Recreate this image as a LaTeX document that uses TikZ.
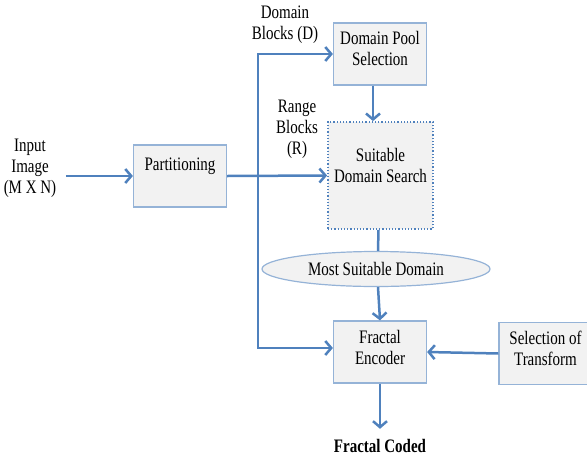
\documentclass[tikz,border=0pt]{standalone}
\usepackage{fontspec}
\setmainfont{Liberation Serif}
\usetikzlibrary{arrows.meta,shapes.geometric}
\definecolor{flowblue}{RGB}{79,129,189}
\definecolor{edgeblue}{RGB}{149,179,215}
\definecolor{boxgray}{RGB}{242,242,242}

\begin{document}
\begin{tikzpicture}[x=1pt,y=-1pt,
  every node/.style={font=\fontsize{15}{16.5}\selectfont,align=center},
  tall/.style={yscale=1.27},
  block/.style={draw=edgeblue,line width=1.2pt,fill=boxgray,minimum width=93pt,minimum height=62pt,inner sep=0pt},
  lbl/.style={tall,align=center,anchor=center},
  flow/.style={draw=flowblue,line width=2.5pt},
  arr/.style={flow,-{Straight Barb[length=6pt,width=14pt]}}]
  \useasboundingbox (0,0) rectangle (587,456);

  % blocks
  \node[block,label={[yshift=10pt,lbl]center:Partitioning}] (part) at (180,176) {};
  \node[block,label={[yshift=5.5pt,lbl]center:Domain Pool\\Selection}] (pool) at (380,54) {};
  \node[block,draw=flowblue,dotted,line width=1.8pt,minimum width=105pt,minimum height=107pt,
        label={[yshift=10pt,lbl]center:Suitable\\Domain Search}] (search) at (380.5,175.5) {};
  \node[ellipse,draw=edgeblue,line width=1.2pt,fill=boxgray,minimum width=228pt,minimum height=35pt,inner sep=0pt,
        label={[lbl]center:Most Suitable Domain}] (best) at (376,269) {};
  \node[block,label={[yshift=5pt,lbl]center:Fractal\\Encoder}] (enc) at (380,352) {};
  \node[block,label={[yshift=5pt,lbl]center:Selection of\\Transform}] (trans) at (545.5,353.5) {};

  % texts
  \node[tall] (input) at (30,168) {Input\\Image\\(M X N)};
  \node[tall] (dblocks) at (285,25) {Domain\\Blocks (D)};
  \node[tall] (rblocks) at (297,129) {Range\\Blocks\\(R)};
  \node[tall,font=\fontsize{15}{16.5}\selectfont\bfseries] (coded) at (380,446) {Fractal Coded};
  \coordinate (split) at (258,176);

  % connectors
  \draw[arr] ([xshift=6pt]input.east |- part.west) -- (part.west);
  \draw[arr] (part.east) -- (search.west);
  \draw[arr] (split) |- (pool.west);
  \draw[arr] (split) |- ([yshift=4pt]enc.west);
  \draw[arr] ([xshift=-7pt]pool.south) -- ([xshift=-7.5pt]search.north);
  \draw[flow] ([xshift=-2pt]search.south) -- ([xshift=2pt]best.north);
  \draw[arr] ([xshift=2pt]best.south) -- (enc.north);
  \draw[arr] (trans.west) -- (enc.east);
  \draw[arr] (enc.south) -- ([yshift=6pt]coded.north);
\end{tikzpicture}
\end{document}
